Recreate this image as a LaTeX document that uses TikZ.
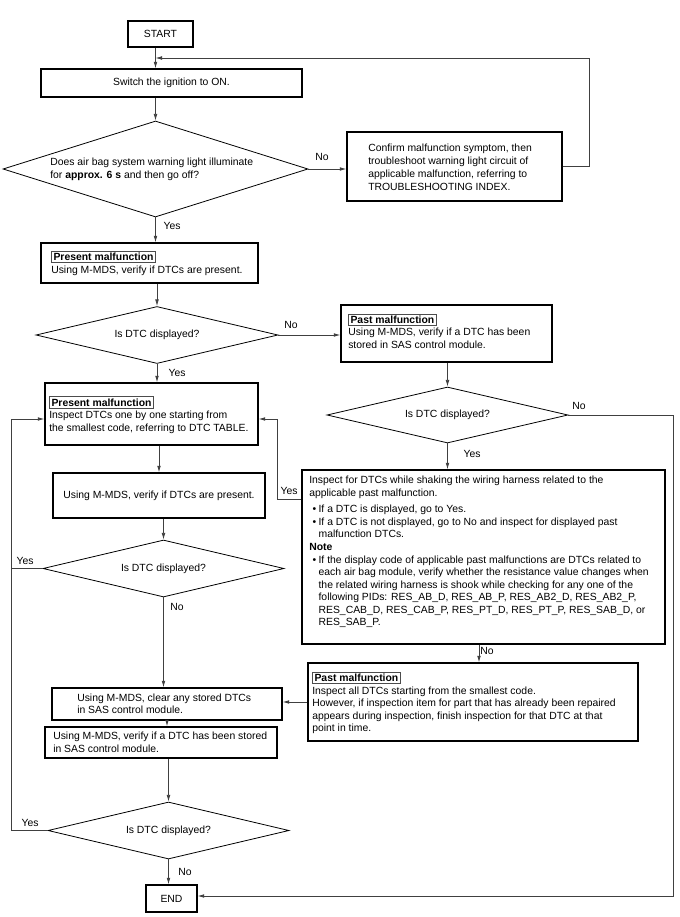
\documentclass[tikz,border=0pt]{standalone}
\usepackage{fontspec}
\setmainfont{Liberation Sans}
\usetikzlibrary{shapes.geometric,arrows.meta,shadows,calc}
\setlength{\fboxsep}{1.2pt}
\setlength{\fboxrule}{0.5pt}
\newcommand\mtitle[1]{\fcolorbox{black!70}{white}{\textbf{#1}}}
\newcommand\mybul{\makebox[7pt][l]{\hspace{2.5pt}\textbullet}}
\begin{document}
\begin{tikzpicture}[x=0.75pt,y=-0.75pt,
  font=\fontsize{7.8}{9.4}\selectfont,
  box/.style={draw=black, line width=0.85pt, fill=white, inner sep=0pt,
    drop shadow={shadow xshift=0.9pt, shadow yshift=-0.9pt, fill=black, opacity=1}},
  dia/.style={draw=black, line width=0.6pt, diamond, inner sep=0pt},
  txt/.style={inner sep=0pt, align=left},
  lbl/.style={inner sep=0pt},
  line/.style={draw=black!75, line width=0.55pt},
  arr/.style={line, -{Latex[length=5pt,width=2.8pt]}},
  sz/.style 2 args={minimum width=#1*0.75pt, minimum height=#2*0.75pt}
]
\useasboundingbox (0,0) rectangle (679,917);

% left column
\node[box, sz={65}{26}] (start) at (160.5,34) {START};
\node[box, sz={261}{28}] (switch) at (171.5,83) {Switch the ignition to ON.};
\node[dia, sz={305}{96}] (d1) at (155.5,169) {};
\node[txt, anchor=west] (d1t) at (50,169.5) {Does air bag system warning light illuminate\\for \textbf{approx. 6 s} and then go off?};
\node[box, sz={215}{69}] (conf) at (454.5,166.5) {};
\node[txt, anchor=west, font=\fontsize{7.8}{9.75}\selectfont] (conft) at (368,167.5) {Confirm malfunction symptom, then\\troubleshoot warning light circuit of\\applicable malfunction, referring to\\TROUBLESHOOTING INDEX.};

\node[box, sz={217}{40}] (pm1) at (149.5,263) {};
\node[txt, anchor=west] (pm1t) at (51,263) {\mtitle{Present malfunction}\\Using M-MDS, verify if DTCs are present.};
\node[dia, sz={242}{57}] (d2) at (157,335) {};
\node[lbl] (d2t) at (d2) {Is DTC displayed?};

\node[box, sz={211}{57}] (past1) at (446.5,333.5) {};
\node[txt, anchor=west] (past1t) at (348,331) {\mtitle{Past malfunction}\\Using M-MDS, verify if a DTC has been\\stored in SAS control module.};
\node[dia, sz={241}{56}] (dp) at (447.5,415) {};
\node[lbl] (dpt) at (dp) {Is DTC displayed?};

\node[box, sz={213}{62}] (pm2) at (151.5,414) {};
\node[txt, anchor=west] (pm2t) at (49,415) {\mtitle{Present malfunction}\\Inspect DTCs one by one starting from\\the smallest code, referring to DTC TABLE.};
\node[box, sz={212}{45}] (chk1) at (159,495.5) {Using M-MDS, verify if DTCs are present.};
\node[dia, sz={241}{57}] (d3) at (163.5,568.5) {};
\node[lbl] (d3t) at (d3) {Is DTC displayed?};

\node[box, sz={363}{174}] (insp) at (483.5,557) {};
\node[txt, anchor=north west] (inspt) at (309,476) {Inspect for DTCs while shaking the wiring harness related to the\\
applicable past malfunction.\\[3pt]
\mybul If a DTC is displayed, go to Yes.\\
\mybul If a DTC is not displayed, go to No and inspect for displayed past\\
\hspace*{7pt}malfunction DTCs.\\
\textbf{Note}\\
\mybul If the display code of applicable past malfunctions are DTCs related to\\
\hspace*{7pt}each air bag module, verify whether the resistance value changes when\\
\hspace*{7pt}the related wiring harness is shook while checking for any one of the\\
\hspace*{7pt}following PIDs: RES\_AB\_D, RES\_AB\_P, RES\_AB2\_D, RES\_AB2\_P,\\
\hspace*{7pt}RES\_CAB\_D, RES\_CAB\_P, RES\_PT\_D, RES\_PT\_P, RES\_SAB\_D, or\\
\hspace*{7pt}RES\_SAB\_P.};

\node[box, sz={330}{78}] (past2) at (473,702) {};
\node[txt, anchor=west] (past2t) at (312,703) {\mtitle{Past malfunction}\\Inspect all DTCs starting from the smallest code.\\However, if inspection item for part that has already been repaired\\appears during inspection, finish inspection for that DTC at that\\point in time.};

\node[box, sz={230}{32}] (clr) at (167,704) {};
\node[txt, anchor=west] (clrt) at (77,704) {Using M-MDS, clear any stored DTCs\\in SAS control module.};
\node[box, sz={232}{31}] (vfy) at (161,742.5) {};
\node[txt, anchor=west] (vfyt) at (53,742.5) {Using M-MDS, verify if a DTC has been stored\\in SAS control module.};
\node[dia, sz={241}{57}] (d4) at (168.5,830.5) {};
\node[lbl] (d4t) at (d4) {Is DTC displayed?};
\node[box, sz={51}{27}] (end) at (171.5,898.5) {END};

% helper coordinates
\coordinate (L) at (11,419);
\coordinate (R) at (673,896);
\coordinate (M1) at (277,499);
\coordinate (M2) at (277,419);
\coordinate (nx) at (479,0);

% connectors
\draw[arr] (start.south -| d1.north) -- (switch.north -| d1.north);
\draw[arr] (switch.south -| d1.north) -- (d1.north);
\draw[arr] (conf.east) -- ++(27,0) |- ($(start.south -| d1.north)!0.5!(switch.north -| d1.north)$);
\draw[arr] (d1.east) -- (d1.east -| conf.west);
\node[lbl] (no1) at (322,157) {No};
\draw[arr] (d1.south) -- (d1.south |- pm1.north);
\node[lbl] (yes1) at (172,226) {Yes};
\draw[arr] (pm1.south -| d2.north) -- (d2.north);
\draw[arr] (d2.east) -- (d2.east -| past1.west);
\node[lbl] (no2) at (291,325) {No};
\draw[arr] (d2.south) -- (d2.south |- pm2.north);
\node[lbl] (yes2) at (177,373) {Yes};
\draw[arr] (chk1.north |- pm2.south) -- (chk1.north);
\draw[arr] (chk1.south -| d3.north) -- (d3.north);
\draw[arr] (d3.west) -| (L) -- (L -| pm2.west);
\node[lbl] (yes3) at (25,561) {Yes};
\draw[line] (d4.west) -| (d3.west -| L);
\node[lbl] (yes4) at (30,823) {Yes};
\draw[arr] (d3.south) -- (d3.south |- clr.north);
\node[lbl] (no3) at (177,607) {No};
\draw[arr] (clr.south) -- (clr.south |- vfy.north);
\draw[arr] (vfy.south -| d4.north) -- (d4.north);
\draw[arr] (d4.south) -- (d4.south |- end.north);
\node[lbl] (no4) at (185,872) {No};
\draw[arr] (past1.south -| dp.north) -- (dp.north);
\draw[arr] (dp.east) -| (R) -- (R -| end.east);
\node[lbl] (no5) at (579,406) {No};
\draw[arr] (dp.south) -- (dp.south |- insp.north);
\node[lbl] (yes5) at (472,454) {Yes};
\draw[arr] (M1 -| insp.west) -- (M1) -- (M2) -- (M2 -| pm2.east);
\node[lbl] (yes6) at (289,491) {Yes};
\draw[arr] (insp.south -| nx) -- (past2.north -| nx);
\node[lbl] (no6) at (487,651) {No};
\draw[arr] (past2.west) -- (past2.west -| clr.east);
\end{tikzpicture}
\end{document}
